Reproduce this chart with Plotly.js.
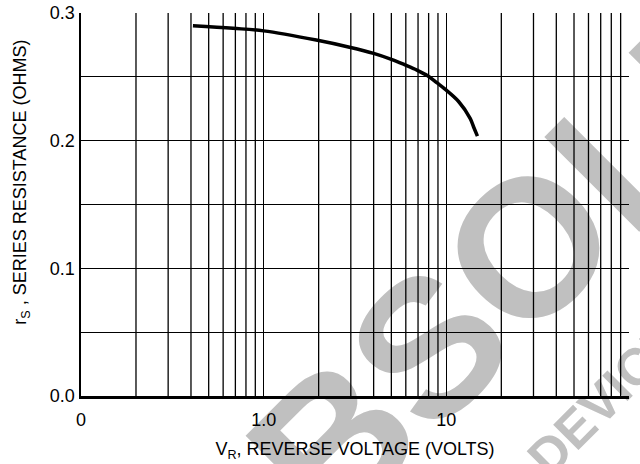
<!DOCTYPE html>
<html>
<head>
<meta charset="utf-8">
<script src="https://cdn.plot.ly/plotly-3.0.1.min.js"></script>
<style>
  html, body { margin: 0; padding: 0; background: #ffffff; }
  #wrap { position: relative; width: 640px; height: 464px; overflow: hidden; }
  #wm { position: absolute; left: 0; top: 0; z-index: 0; }
  #chart { position: absolute; left: 0; top: 0; width: 640px; height: 464px; z-index: 1; }
</style>
</head>
<body>
<div id="wrap">
  <svg id="wm" width="640" height="464" xmlns="http://www.w3.org/2000/svg">
    <text x="224" y="647" transform="rotate(-45 224 647)" font-family="Liberation Sans, Arial, sans-serif" font-weight="bold" font-size="195" fill="#c0c0c0">OBSOLETE</text>
    <text x="549.5" y="479" transform="rotate(-45 549.5 479)" font-family="Liberation Sans, Arial, sans-serif" font-weight="bold" font-size="52" fill="#c0c0c0">DEVICE</text>
  </svg>
  <div id="chart"></div>
</div>
<script>
// Reverse voltage (V) and series resistance (ohms)
const reverseVoltage = [0.41, 0.68, 1.0, 1.94, 2.95, 4.0, 5.0, 5.9, 6.9, 7.9, 8.9, 9.8, 11.7, 13.5, 14.2, 14.8];
const seriesResistance = [0.290, 0.288, 0.286, 0.2788, 0.2732, 0.2684, 0.2637, 0.2595, 0.2553, 0.2508, 0.2452, 0.2405, 0.2305, 0.2175, 0.2097, 0.2035];

// Labelled ticks
const xTickVals = [0.1, 1, 10, 100];
const xTickText = ['0', '1.0', '10', '100'];
const yTickVals = [0, 0.1, 0.2, 0.3];
const yTickText = ['0.0', '0.1', '0.2', '0.3'];

// Log-cycle grid on x (every digit of each decade), every 0.05 on y
const xDecades = [0.1, 1, 10];
const xCycleDigits = [2, 3, 4, 5, 6, 7, 8, 9];
const yGridStep = 0.05;

const xGridVals = [];
xDecades.forEach(d => xCycleDigits.forEach(k => xGridVals.push(+(k * d).toPrecision(3))));

const yGridVals = [];
const yGridText = [];
for (let i = 0; i <= 6; i++) {
  const v = +(i * yGridStep).toFixed(2);
  yGridVals.push(v);
  const idx = yTickVals.findIndex(t => Math.abs(t - v) < 1e-9);
  yGridText.push(idx >= 0 ? yTickText[idx] : '');
}

const FONT = "'Liberation Sans', Arial, Helvetica, sans-serif";
const GRID_W = 1.3;

const gridShapes = xGridVals.map(v => ({
  type: 'line', layer: 'below',
  xref: 'x', yref: 'paper',
  x0: v, x1: v, y0: 0, y1: 1,
  line: { color: '#000000', width: GRID_W }
}));

const trace = {
  x: reverseVoltage,
  y: seriesResistance,
  type: 'scatter',
  mode: 'lines',
  line: { color: '#000000', width: 3.5, shape: 'spline', smoothing: 1 },
  hoverinfo: 'skip'
};

const layout = {
  width: 640,
  height: 464,
  margin: { l: 81, r: 11, t: 13, b: 68 },
  paper_bgcolor: 'rgba(0,0,0,0)',
  plot_bgcolor: 'rgba(0,0,0,0)',
  showlegend: false,
  font: { family: FONT, size: 18, color: '#000000' },
  xaxis: {
    type: 'log',
    range: [-1, 2],
    tickmode: 'array',
    tickvals: xTickVals,
    ticktext: xTickText,
    ticks: '',
    ticklabelstandoff: 6,
    showgrid: true,
    gridcolor: '#000000',
    gridwidth: GRID_W,
    showline: true,
    linecolor: '#000000',
    linewidth: 2.5,
    zeroline: false,
    tickfont: { family: FONT, size: 18, color: '#000000' },
    title: { text: 'V<sub>R</sub>, REVERSE VOLTAGE (VOLTS)', font: { family: FONT, size: 18, color: '#000000' }, standoff: 14 }
  },
  yaxis: {
    range: [0, 0.3],
    tickmode: 'array',
    tickvals: yGridVals,
    ticktext: yGridText,
    ticks: '',
    showgrid: true,
    gridcolor: '#000000',
    gridwidth: GRID_W,
    showline: true,
    linecolor: '#000000',
    linewidth: 2.5,
    zeroline: false,
    tickfont: { family: FONT, size: 18, color: '#000000' }
  },
  shapes: gridShapes,
  annotations: [{
    text: 'r<sub>S</sub> , SERIES RESISTANCE (OHMS)',
    xref: 'paper', yref: 'paper',
    x: -0.108, y: 0.559,
    xanchor: 'center', yanchor: 'middle',
    textangle: -90,
    showarrow: false,
    font: { family: FONT, size: 18, color: '#000000' }
  }]
};

Plotly.newPlot('chart', [trace], layout, { staticPlot: true, displayModeBar: false });
</script>
</body>
</html>
